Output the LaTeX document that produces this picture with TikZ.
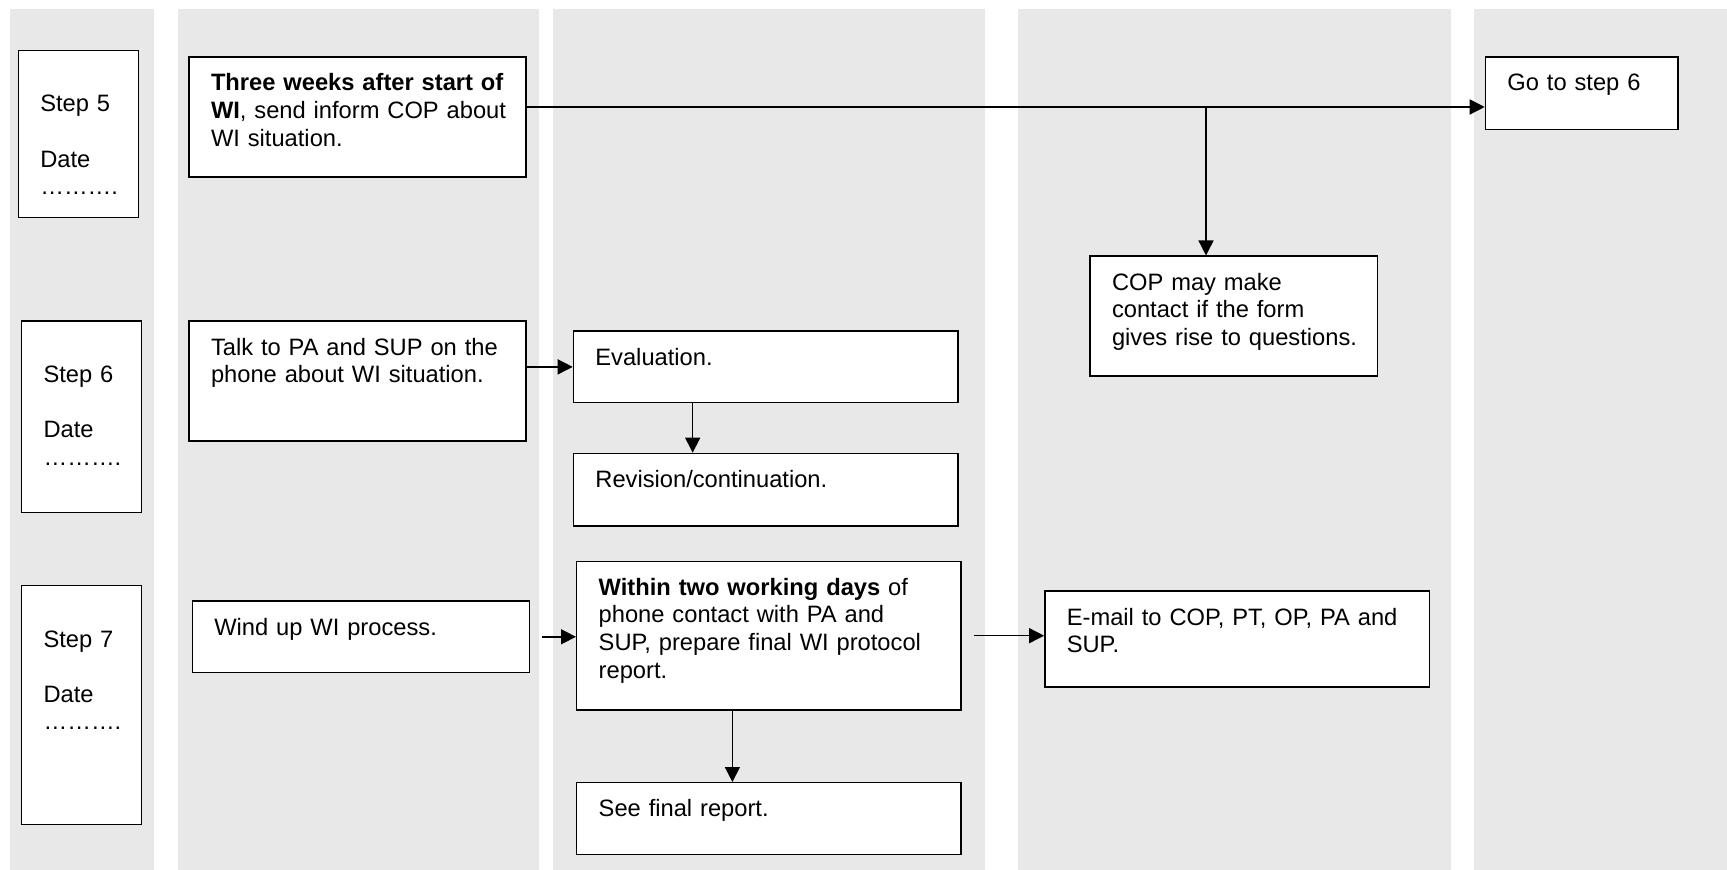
\documentclass[tikz,border=0pt]{standalone}
\usepackage{fontspec}
\setmainfont{Liberation Sans}
\usetikzlibrary{arrows.meta}

\begin{document}
\begin{tikzpicture}[x=0.5pt,y=-0.5pt,
      lane/.style={fill=gray!18,draw=none},
      cell/.style={draw,line width=0.7pt,fill=white,anchor=north west,align=left,inner xsep=11pt,inner ysep=6pt,text height=11pt,
        font=\fontsize{11.85}{13.8}\selectfont,execute at begin node={\rightskip=0pt plus 1fil minus 40pt\relax}},
      stepbox/.style={cell,text width=38pt,text height=24.8pt},
      leftbox/.style={cell,text width=146.5pt},
      midbox/.style={cell,text width=170.2pt},
      arr/.style={-{Triangle[length=7.5pt,width=7.5pt]},line width=0.7pt}
    ]
      \useasboundingbox (0,0) rectangle (1727,870);
      % lanes
      \foreach \l/\r in {10/154,178/539,553/985,1018/1451,1474/1727}
        \fill[lane] (\l,9) rectangle (\r,870);
      % steps
      \node[stepbox,text depth=46.9pt] (step5) at (17.6,49.6) {Step 5\\[13.8pt]Date\\……….};
      \node[stepbox,text depth=59pt] (step6) at (20.9,320.5) {Step 6\\[13.8pt]Date\\……….};
      \node[stepbox,text depth=82.7pt] (step7) at (20.9,584.8) {Step 7\\[13.8pt]Date\\……….};
      % step 5
      \node[leftbox,text depth=37pt] (three) at (188.3,56.2) {\textbf{Three weeks after start of}\\\textbf{WI}, send inform COP about\\WI situation.};
      \node[cell,text width=121.7pt,text depth=37pt] (cop) at (1089.3,255.5) {COP may make\\contact if the form\\gives rise to questions.};
      \node[cell,text width=74.3pt,text depth=13.4pt] (go) at (1484.7,56.2) {Go to step 6};
      % step 6
      \node[leftbox,text depth=37pt] (talk) at (188.3,320.5) {Talk to PA and SUP on the\\phone about WI situation.};
      \node[midbox,text depth=12.8pt] (eval) at (572.7,330.4) {Evaluation.};
      \node[midbox,text depth=13.4pt] (rev) at (572.7,452.7) {Revision/continuation.};
      % step 7
      \node[leftbox,text depth=12.8pt] (wind) at (191.6,600.3) {Wind up WI process.};
      \node[midbox,text depth=51.4pt] (within) at (576,560.6) {\textbf{Within two working days} of\\phone contact with PA and\\SUP, prepare final WI protocol\\report.};
      \node[midbox,text depth=12.8pt] (see) at (576,782) {See final report.};
      \node[midbox,text depth=25pt] (email) at (1044.1,590.3) {E-mail to COP, PT, OP, PA and\\SUP.};
      % arrows
      \coordinate (split) at (1206,107);
      \draw[arr] (three.east |- split) -- (split -| go.west);
      \draw[arr] (split) -- (split |- cop.north);
      \draw[arr] (talk.east |- eval.west) -- (eval.west);
      \draw[arr] ([xshift=60pt]eval.south west) -- ([xshift=60pt]rev.north west);
      \draw[arr] ([xshift=6pt]wind.east) -- (wind.east -| within.west);
      \draw[arr] ([xshift=6pt]within.east) -- (within.east -| email.west);
      \draw[arr] ([xshift=78.2pt]within.south west) -- ([xshift=78.2pt]see.north west);
    \end{tikzpicture}
\end{document}
